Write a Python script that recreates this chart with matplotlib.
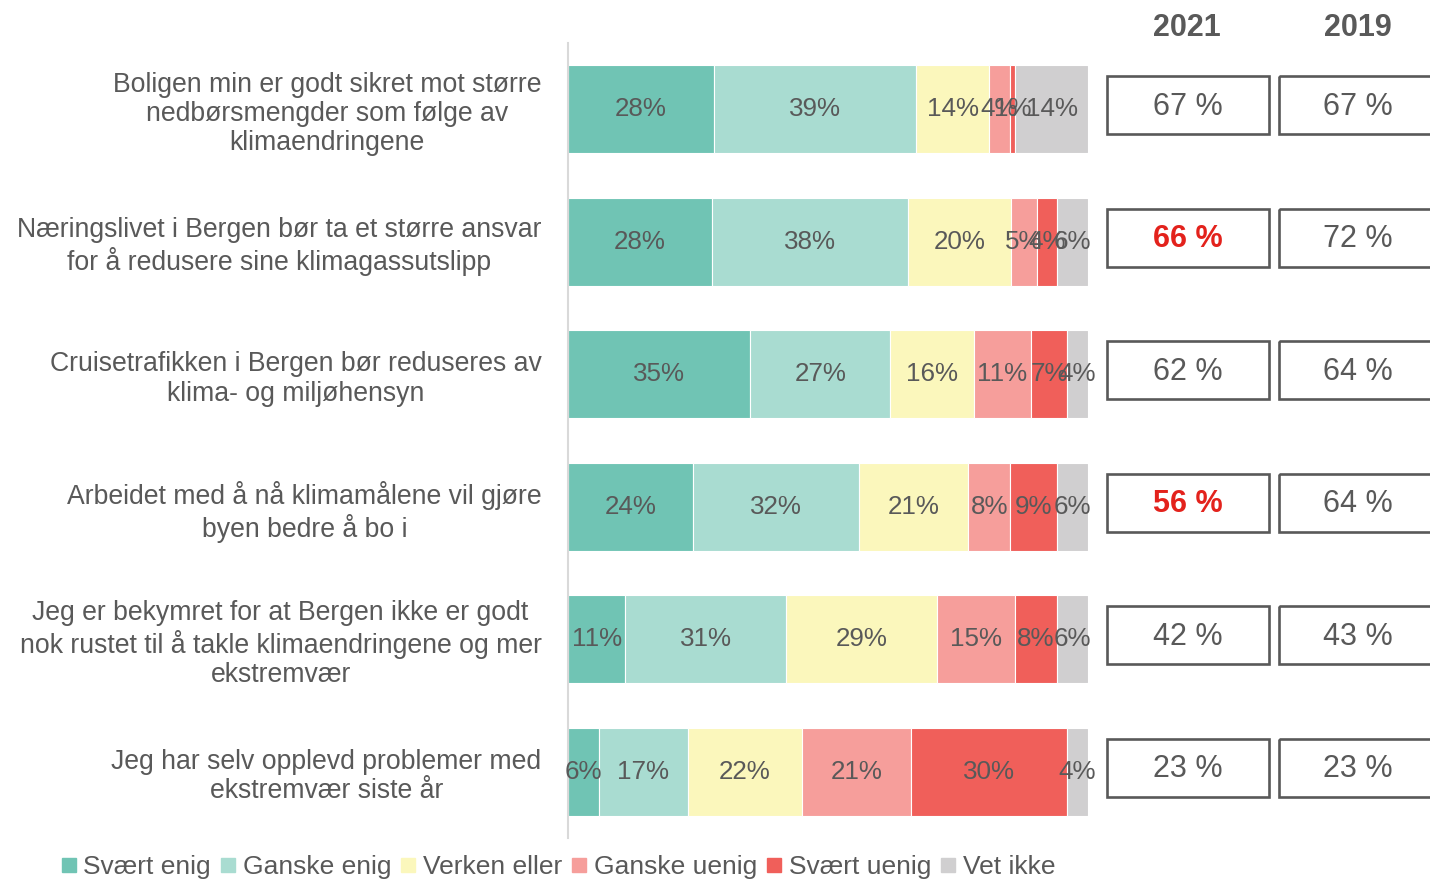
import matplotlib
matplotlib.use("Agg")
import matplotlib.pyplot as plt
from matplotlib.patches import Rectangle
from matplotlib.lines import Line2D
import numpy as np

plt.rcParams['font.family'] = ['Liberation Sans', 'DejaVu Sans']

categories = [
    "Boligen min er godt sikret mot større\nnedbørsmengder som følge av\nklimaendringene",
    "Næringslivet i Bergen bør ta et større ansvar\nfor å redusere sine klimagassutslipp",
    "Cruisetrafikken i Bergen bør reduseres av\nklima- og miljøhensyn",
    "Arbeidet med å nå klimamålene vil gjøre\nbyen bedre å bo i",
    "Jeg er bekymret for at Bergen ikke er godt\nnok rustet til å takle klimaendringene og mer\nekstremvær",
    "Jeg har selv opplevd problemer med\nekstremvær siste år",
]
series_names = ["Svært enig", "Ganske enig", "Verken eller", "Ganske uenig", "Svært uenig", "Vet ikke"]
svaert_enig = [28, 28, 35, 24, 11, 6]
ganske_enig = [39, 38, 27, 32, 31, 17]
verken_eller = [14, 20, 16, 21, 29, 22]
ganske_uenig = [4, 5, 11, 8, 15, 21]
svaert_uenig = [1, 4, 7, 9, 8, 30]
vet_ikke = [14, 6, 4, 6, 6, 4]
agree_2021 = [67, 66, 62, 56, 42, 23]
agree_2019 = [67, 72, 64, 64, 43, 23]
highlight_2021 = [False, True, False, True, False, False]
years = ["2021", "2019"]

colors = ["#70C4B4", "#A9DCD1", "#FBF7BC", "#F69E9B", "#F05F5A", "#D0CFD0"]
txt_color = "#595959"

data = np.array([svaert_enig, ganske_enig, verken_eller, ganske_uenig, svaert_uenig, vet_ikke], dtype=float)
totals = data.sum(axis=0)
widths = data / totals * 100.0

W, H = 1430, 882
fig = plt.figure(figsize=(W / 100, H / 100), dpi=100)

ax_left, ax_right = 568, 1088
ax_top, ax_bot = 43, 838
ax = fig.add_axes([ax_left / W, 1 - ax_bot / H, (ax_right - ax_left) / W, (ax_bot - ax_top) / H])
n = len(categories)
ypos = np.arange(n)
left = np.zeros(n)
for i in range(len(series_names)):
    ax.barh(ypos, widths[i], left=left, height=0.665, color=colors[i],
            edgecolor="white", linewidth=0.8, label=series_names[i])
    for j in range(n):
        ax.text(left[j] + widths[i][j] / 2, ypos[j], f"{int(data[i][j])}%",
                ha="center", va="center", fontsize=18.7, color=txt_color)
    left += widths[i]

ax.set_xlim(0, 100)
ax.set_ylim(n - 0.5, -0.5)
ax.set_xticks([])
ax.set_yticks(ypos)
ax.set_yticklabels(categories, fontsize=19.2, color=txt_color)
for lab in ax.get_yticklabels():
    lab.set_multialignment("center")
    lab.set_linespacing(1.17)
ax.tick_params(axis="y", length=0, pad=19)
for s in ["top", "right", "bottom"]:
    ax.spines[s].set_visible(False)
ax.spines["left"].set_color("#D9D9D9")
ax.spines["left"].set_linewidth(1.5)

# Right-hand boxes
ax2 = fig.add_axes([1100 / W, 1 - ax_bot / H, (W - 1100) / W, (ax_bot - ax_top) / H])
ax2.set_xlim(1100, W)
ax2.set_ylim(n - 0.5, -0.5)
ax2.axis("off")
row_px = (ax_bot - ax_top) / n
bh = 58 / row_px
off = -4 / row_px
cols = [(1107, 1269), (1279, 1441)]
for vals, (x0, x1), hl in [(agree_2021, cols[0], highlight_2021), (agree_2019, cols[1], [False] * n)]:
    for j in range(n):
        ax2.add_patch(Rectangle((x0, ypos[j] + off - bh / 2), x1 - x0, bh, fill=False,
                                edgecolor=txt_color, linewidth=1.9, clip_on=False))
        ax2.text((x0 + x1) / 2 if x1 < W else 1358, ypos[j] + off + 0.01, f"{vals[j]} %",
                 ha="center", va="center", fontsize=22,
                 color="#E3221C" if hl[j] else txt_color,
                 fontweight="bold" if hl[j] else "normal", clip_on=False)

fig.text(1187 / W, 1 - 28 / H, years[0], ha="center", va="center", fontsize=22,
         fontweight="bold", color=txt_color)
fig.text(1358 / W, 1 - 28 / H, years[1], ha="center", va="center", fontsize=22,
         fontweight="bold", color=txt_color)

handles = [Line2D([0], [0], marker="s", linestyle="none", markersize=10,
                  markerfacecolor=c, markeredgecolor=c) for c in colors]
leg = fig.legend(handles, series_names, loc="center", bbox_to_anchor=(558 / W, 1 - 867 / H),
                 ncol=6, frameon=False, fontsize=19, handlelength=0.6, handletextpad=0.25,
                 columnspacing=0.35, borderpad=0)
for t in leg.get_texts():
    t.set_color(txt_color)

fig.savefig("out.png", dpi=100)
